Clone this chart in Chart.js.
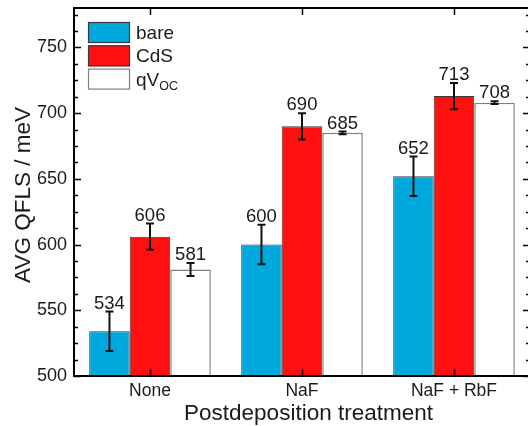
<!DOCTYPE html>
<html>
<head>
<meta charset="utf-8">
<script src="https://cdn.jsdelivr.net/npm/chart.js@4.4.0/dist/chart.umd.min.js"></script>
<style>
  html, body { margin: 0; padding: 0; background: #fff; overflow: hidden; }
  #wrap { width: 528px; height: 426px; overflow: hidden; }
</style>
</head>
<body>
<div id="wrap"><canvas id="qfls" width="532" height="426"></canvas></div>
<script>
// Dados
const treatments = ['None', 'NaF', 'NaF + RbF'];
const bare    = [534, 600, 652];
const bareErr = [15, 15, 15];
const cds     = [606, 690, 713];
const cdsErr  = [10, 10, 10];
const qvoc    = [581, 685, 708];
const qvocErr = [5, 1, 1];
const yTicks  = [500, 550, 600, 650, 700, 750];
const yMin = 500, yMax = 780, yMinorStep = 12.5;

const seriesNames = ['bare', 'CdS', 'qV'];
const seriesSub   = ['', '', 'OC'];
const xTitle = 'Postdeposition treatment';
const yTitle = 'AVG QFLS / meV';
const FONT = '"Liberation Sans", Arial, sans-serif';
const INK = '#1a1a1a';

Chart.defaults.font.family = FONT;
Chart.defaults.color = INK;

// Barras de erro, rótulos, moldura, títulos e legenda
const decor = {
  id: 'decor',
  afterDatasetsDraw(chart) {
    const { ctx, chartArea: a, scales: { x, y } } = chart;
    ctx.save();

    // erro + valor
    chart.data.datasets.forEach((ds, di) => {
      const meta = chart.getDatasetMeta(di);
      meta.data.forEach((bar, i) => {
        const v = ds.data[i], e = ds.err[i];
        const yt = y.getPixelForValue(v + e), yb = y.getPixelForValue(v - e);
        ctx.strokeStyle = '#111';
        ctx.lineWidth = 2;
        ctx.beginPath();
        ctx.moveTo(bar.x, yt); ctx.lineTo(bar.x, yb);
        ctx.moveTo(bar.x - 4, yt); ctx.lineTo(bar.x + 4, yt);
        ctx.moveTo(bar.x - 4, yb); ctx.lineTo(bar.x + 4, yb);
        ctx.stroke();
        ctx.fillStyle = INK;
        ctx.font = '18.5px ' + FONT;
        ctx.textAlign = 'center';
        ctx.textBaseline = 'alphabetic';
        ctx.fillText(String(v), bar.x, yt - 3);
      });
    });

    // moldura
    ctx.strokeStyle = '#000';
    ctx.lineWidth = 2;
    ctx.strokeRect(a.left, a.top, a.right - a.left, a.bottom - a.top);

    // ticks para dentro
    ctx.lineWidth = 1.5;
    ctx.beginPath();
    for (let v = yMin; v <= yMax; v += yMinorStep) {
      const py = Math.round(y.getPixelForValue(v)) + 0.5;
      const len = v % 50 === 0 ? 7 : 4;
      ctx.moveTo(a.left, py); ctx.lineTo(a.left + len, py);
      ctx.moveTo(a.right, py); ctx.lineTo(a.right - len, py);
    }
    treatments.forEach((t, i) => {
      const px = Math.round(x.getPixelForValue(i)) + 0.5;
      ctx.moveTo(px, a.top); ctx.lineTo(px, a.top + 7);
      ctx.moveTo(px, a.bottom); ctx.lineTo(px, a.bottom - 7);
    });
    ctx.stroke();

    // títulos dos eixos
    ctx.fillStyle = INK;
    ctx.font = '22.5px ' + FONT;
    ctx.textAlign = 'center';
    ctx.textBaseline = 'alphabetic';
    ctx.fillText(xTitle, 308.5, 419.5);
    ctx.save();
    ctx.translate(30, 195);
    ctx.rotate(-Math.PI / 2);
    ctx.fillText(yTitle, 0, 0);
    ctx.restore();

    // legenda
    chart.data.datasets.forEach((ds, di) => {
      const bx = a.left + 14, by = a.top + 14 + di * 23.3;
      ctx.fillStyle = ds.backgroundColor;
      ctx.fillRect(bx, by, 42, 21);
      ctx.strokeStyle = ds.borderColor;
      ctx.lineWidth = 1.2;
      ctx.strokeRect(bx + 0.5, by + 0.5, 41, 20);
      ctx.fillStyle = INK;
      ctx.textAlign = 'left';
      ctx.font = '19px ' + FONT;
      const base = by + 17;
      ctx.fillText(seriesNames[di], bx + 48, base);
      if (seriesSub[di]) {
        const w = ctx.measureText(seriesNames[di]).width;
        ctx.font = '12.5px ' + FONT;
        ctx.fillText(seriesSub[di], bx + 48 + w, base + 4);
      }
    });
    ctx.restore();
  }
};

new Chart(document.getElementById('qfls'), {
  type: 'bar',
  data: {
    labels: treatments,
    datasets: [
      { label: 'bare', data: bare, err: bareErr, backgroundColor: '#00A9DD', borderColor: '#3a3a3a', borderWidth: 1 },
      { label: 'CdS', data: cds, err: cdsErr, backgroundColor: '#FF1010', borderColor: '#3a3a3a', borderWidth: 1 },
      { label: 'qVOC', data: qvoc, err: qvocErr, backgroundColor: '#FFFFFF', borderColor: '#808080', borderWidth: 1.5 }
    ]
  },
  options: {
    responsive: false,
    animation: false,
    categoryPercentage: 0.8,
    barPercentage: 1.0,
    layout: { padding: { top: 8, right: 2, left: 0, bottom: 0 } },
    plugins: { legend: { display: false }, tooltip: { enabled: false } },
    scales: {
      x: {
        grid: { display: false, drawTicks: false },
        border: { display: false },
        ticks: { font: { size: 17.5 }, padding: 5, color: INK },
        afterFit(s) { s.height = 50; s.paddingLeft = 0; s.paddingRight = 0; }
      },
      y: {
        min: yMin,
        max: yMax,
        grid: { display: false, drawTicks: false },
        border: { display: false },
        ticks: { font: { size: 18 }, padding: 7, color: INK },
        afterBuildTicks(s) { s.ticks = yTicks.map(v => ({ value: v })); },
        afterFit(s) { s.width = 74; s.paddingTop = 0; s.paddingBottom = 0; }
      }
    }
  },
  plugins: [decor]
});
</script>
</body>
</html>
